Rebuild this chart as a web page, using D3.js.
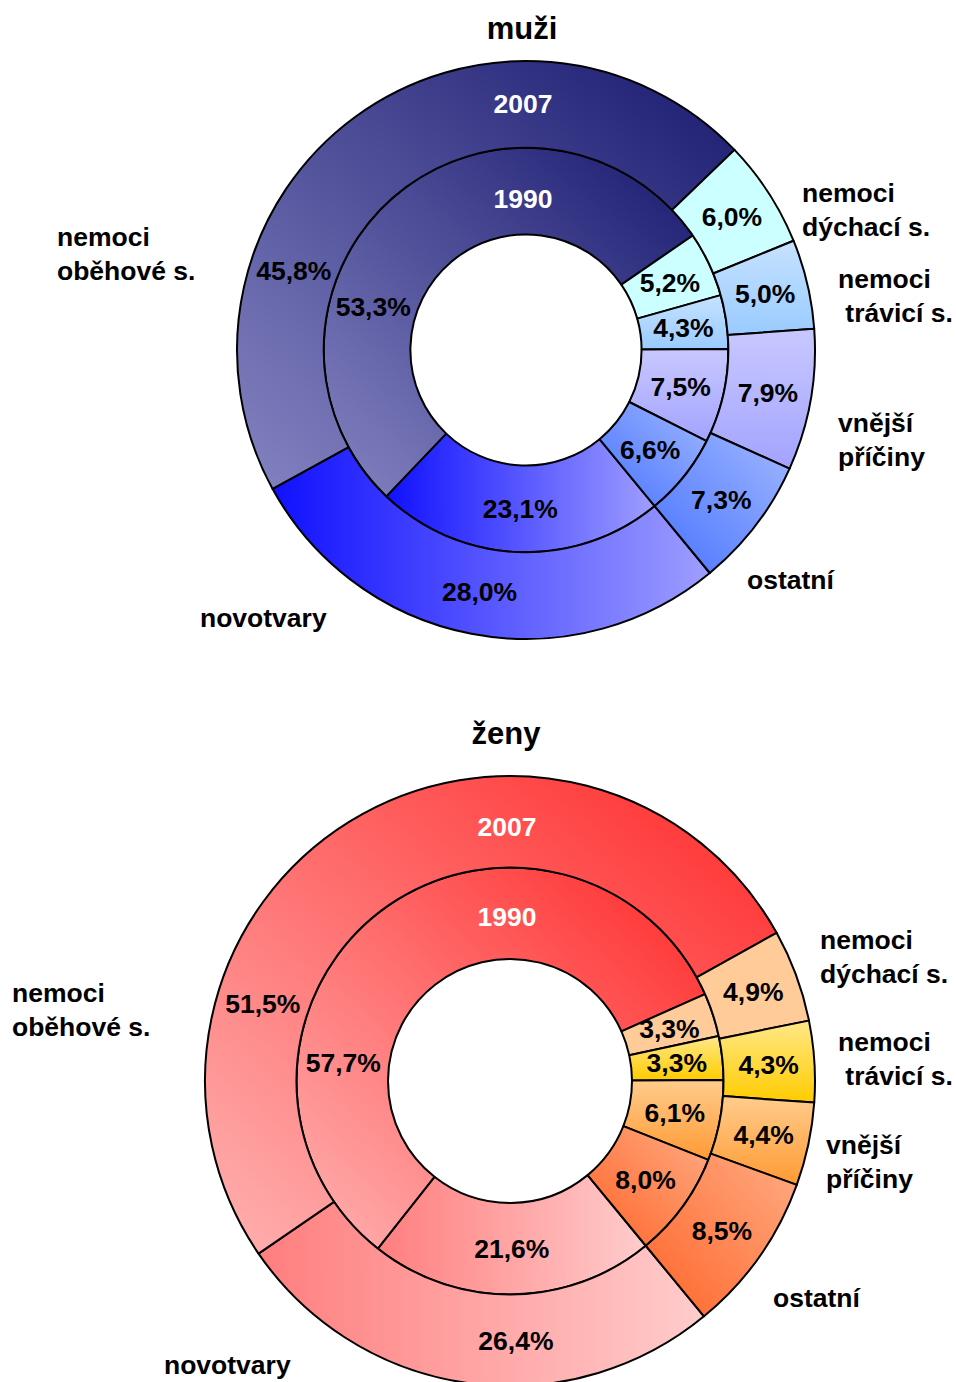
<!DOCTYPE html>
<html>
<head>
<meta charset="utf-8">
<script src="https://cdn.jsdelivr.net/npm/d3@7"></script>
<style>
  body { margin: 0; background: #fff; }
  svg { display: block; }
  text { font-family: "Liberation Sans", Arial, sans-serif; font-weight: bold; }
</style>
</head>
<body>
<svg id="chart"></svg>
<script>
// categories in the order the rings are drawn (clockwise)
const categories = ['novotvary', 'nemoci oběhové s.', 'nemoci dýchací s.', 'nemoci trávicí s.', 'vnější příčiny', 'ostatní'];
const years = ['1990', '2007'];

const muzi1990 = [23.1, 53.3, 5.2, 4.3, 7.5, 6.6];
const muzi2007 = [28.0, 45.8, 6.0, 5.0, 7.9, 7.3];
const zeny1990 = [21.6, 57.7, 3.3, 3.3, 6.1, 8.0];
const zeny2007 = [26.4, 51.5, 4.9, 4.3, 4.4, 8.5];

const titles = ['muži', 'ženy'];

// gradient stops per category: [start, end, direction]
const muziColors = [
  ['#1010ff', '#9e9eff', 'h'],
  ['#8484c2', '#1a1a70', 'd'],
  ['#ccffff', '#ccffff', 'v'],
  ['#c6e2ff', '#99cbff', 'v'],
  ['#c8c8ff', '#a3a3ff', 'v'],
  ['#a0b8ff', '#4872ff', 'r']
];
const zenyColors = [
  ['#ff7e7e', '#ffcccc', 'h'],
  ['#ffb2b2', '#ff2a2a', 'd'],
  ['#ffcc99', '#ffcc99', 'v'],
  ['#ffe888', '#ffcc00', 'v'],
  ['#ffcc8c', '#ff9a33', 'v'],
  ['#ffac84', '#ff6428', 'r']
];

const W = 956, H = 1382;
const svg = d3.select('#chart').attr('width', W).attr('height', H);
const defs = svg.append('defs');

const deg = Math.PI / 180;
const startAngle = 140.5 * deg;
const fontSize = 26.5;

const charts = [
  {
    key: 'm', title: titles[0], cx: 526, cy: 350, r: 289, titleY: 39,
    series: [muzi1990, muzi2007], colors: muziColors,
    yearR: [152, 247],
    // label angle overrides for [ring][category]
    labelAngle: {'0-1': 286, '1-1': 289},
    legend: [
      {lines: ['novotvary'], x: 200, y: 627},
      {lines: ['nemoci', 'oběhové s.'], x: 57, y: 246},
      {lines: ['nemoci', 'dýchací s.'], x: 802, y: 202},
      {lines: ['nemoci', ' trávicí s.'], x: 838, y: 288},
      {lines: ['vnější', 'příčiny'], x: 838, y: 432},
      {lines: ['ostatní'], x: 747, y: 589}
    ]
  },
  {
    key: 'z', title: titles[1], cx: 510, cy: 1081, r: 305, titleY: 744,
    series: [zeny1990, zeny2007], colors: zenyColors,
    yearR: [165, 255],
    labelAngle: {'0-1': 276.5, '1-1': 287.5, '1-0': 178.7},
    legend: [
      {lines: ['novotvary'], x: 164, y: 1374},
      {lines: ['nemoci', 'oběhové s.'], x: 12, y: 1002},
      {lines: ['nemoci', 'dýchací s.'], x: 820, y: 949},
      {lines: ['nemoci', ' trávicí s.'], x: 838, y: 1051},
      {lines: ['vnější', 'příčiny'], x: 826, y: 1154},
      {lines: ['ostatní'], x: 773, y: 1307}
    ]
  }
];

const dirs = {
  h: {x1: 0, y1: 0, x2: 1, y2: 0},
  v: {x1: 0, y1: 0, x2: 0, y2: 1},
  d: {x1: 0, y1: 1, x2: 1, y2: 0},
  r: {x1: 1, y1: 0, x2: 0, y2: 1}
};

const pie = d3.pie()
  .sort(null)
  .value(d => d)
  .startAngle(startAngle)
  .endAngle(startAngle + 2 * Math.PI);

charts.forEach(c => {
  c.colors.forEach((col, i) => {
    const dir = dirs[col[2]];
    const g = defs.append('linearGradient')
      .attr('id', 'g' + c.key + i)
      .attr('x1', dir.x1).attr('y1', dir.y1)
      .attr('x2', dir.x2).attr('y2', dir.y2);
    g.append('stop').attr('offset', 0).attr('stop-color', col[0]);
    g.append('stop').attr('offset', 1).attr('stop-color', col[1]);
  });

  const g = svg.append('g').attr('transform', `translate(${c.cx},${c.cy})`);

  const radii = [[0.4 * c.r, 0.7 * c.r], [0.7 * c.r, c.r]];

  c.series.forEach((values, ring) => {
    const arc = d3.arc().innerRadius(radii[ring][0]).outerRadius(radii[ring][1]);
    const arcs = pie(values);

    g.append('g').selectAll('path')
      .data(arcs)
      .join('path')
      .attr('d', arc)
      .attr('fill', (d, i) => `url(#g${c.key}${i})`)
      .attr('stroke', '#000')
      .attr('stroke-width', 2)
      .attr('stroke-linejoin', 'round');

    const mid = (radii[ring][0] + radii[ring][1]) / 2;

    g.append('g').selectAll('text')
      .data(arcs)
      .join('text')
      .attr('transform', (d, i) => {
        const a = c.labelAngle[ring + '-' + i];
        if (a !== undefined) {
          return `translate(${mid * Math.sin(a * deg)},${-mid * Math.cos(a * deg)})`;
        }
        const p = arc.centroid(d);
        return `translate(${p[0]},${p[1]})`;
      })
      .attr('text-anchor', 'middle')
      .attr('dy', '0.36em')
      .attr('font-size', fontSize)
      .attr('fill', '#000')
      .text(d => d3.format('.1f')(d.value).replace('.', ',') + '%');

    // series name at top of the ring
    g.append('text')
      .attr('x', -3)
      .attr('y', -c.yearR[ring])
      .attr('dy', '0.36em')
      .attr('text-anchor', 'middle')
      .attr('font-size', fontSize)
      .attr('fill', '#fff')
      .text(years[ring]);
  });

  svg.append('text')
    .attr('x', c.cx - 4)
    .attr('y', c.titleY)
    .attr('text-anchor', 'middle')
    .attr('font-size', 31)
    .text(c.title);

  c.legend.forEach(l => {
    const t = svg.append('text')
      .attr('x', l.x)
      .attr('y', l.y)
      .attr('font-size', fontSize)
      .attr('xml:space', 'preserve');
    l.lines.forEach((s, k) => {
      t.append('tspan')
        .attr('x', l.x)
        .attr('dy', k === 0 ? 0 : 34)
        .text(s);
    });
  });
});
</script>
</body>
</html>
